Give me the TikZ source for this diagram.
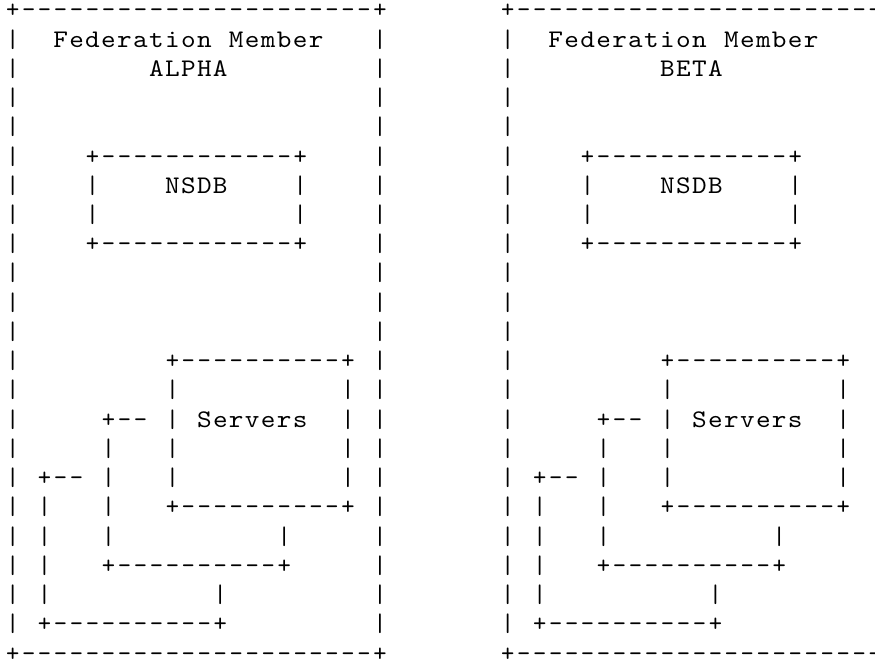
\documentclass[tikz,border=0pt]{standalone}
\usepackage{fontspec}
\newfontfamily\gfont{lmmono10-regular.otf}
\newfontfamily\wfont{lmmono10-regular.otf}[FakeStretch=1.1,LetterSpace=5.29]
% horizontal run "+----+" : prefix, row, from col, to col
\newcommand\hrun[4]{%
  \node[glyph] (#1-p-#3-#2) at (#3,#2) {+};
  \node[glyph] (#1-p-#4-#2) at (#4,#2) {+};
  \pgfmathtruncatemacro\hra{#3+1}%
  \pgfmathtruncatemacro\hrb{#4-1}%
  \foreach \c in {\hra,...,\hrb} {\node[glyph] (#1-d-\c-#2) at (\c,#2) {-};}%
}
% vertical run of "|" : prefix, col, from row, to row
\newcommand\vrun[4]{%
  \foreach \r in {#3,...,#4} {\node[glyph] (#1-v-#2-\r) at (#2,\r) {|};}%
}
% stub "+--" : prefix, row, col
\newcommand\stub[3]{%
  \node[glyph] (#1-s-#3-#2) at (#3,#2) {+};
  \node[glyph] (#1-sa-#3-#2) at ({#3+1},#2) {-};
  \node[glyph] (#1-sb-#3-#2) at ({#3+2},#2) {-};
}
\newcommand\wsh{0.458}
% one federation member : prefix, label, label col, right border col
\newcommand\member[4]{%
  \hrun{#1}{0}{0}{#4}
  \hrun{#1}{22}{0}{#4}
  \vrun{#1}{0}{1}{21}
  \vrun{#1}{#4}{1}{21}
  \node[word] (#1-fed) at ({3-\wsh},1) {Federation};
  \node[word] (#1-mem) at ({14-\wsh},1) {Member};
  \node[word] (#1-lab) at ({#3-\wsh},2) {#2};
  % NSDB box
  \hrun{#1n}{5}{5}{18}
  \hrun{#1n}{8}{5}{18}
  \vrun{#1n}{5}{6}{7}
  \vrun{#1n}{18}{6}{7}
  \node[word] (#1-nsdb) at ({10-\wsh},6) {NSDB};
  % Servers (front)
  \hrun{#1s}{12}{10}{21}
  \hrun{#1s}{17}{10}{21}
  \vrun{#1s}{10}{13}{16}
  \vrun{#1s}{21}{13}{16}
  \node[word] (#1-servers) at ({12-\wsh},14) {Servers};
  % second server (behind)
  \stub{#1t}{14}{6}
  \vrun{#1t}{6}{15}{18}
  \vrun{#1t}{17}{18}{18}
  \hrun{#1t}{19}{6}{17}
  % third server (behind)
  \stub{#1u}{16}{2}
  \vrun{#1u}{2}{17}{20}
  \vrun{#1u}{13}{20}{20}
  \hrun{#1u}{21}{2}{13}
}
\begin{document}
\begin{tikzpicture}[x=11.978pt, y=-21.93pt,
  glyph/.style={inner sep=0pt, outer sep=0pt, anchor=base, text depth=0pt, font=\gfont\fontsize{19}{19}\selectfont},
  word/.style={inner sep=0pt, outer sep=0pt, anchor=base west, font=\wfont\fontsize{19}{19}\selectfont}]
\path[use as bounding box, fill=white] (0pt,0pt) rectangle (656.25pt,-496.5pt);
\begin{scope}[shift={(0.7952,0.6087)}]
  \member{a}{ALPHA}{9}{23}
  \begin{scope}[xshift=371.318pt]
    \member{b}{BETA}{10}{56}
  \end{scope}
\end{scope}
\end{tikzpicture}
\end{document}
